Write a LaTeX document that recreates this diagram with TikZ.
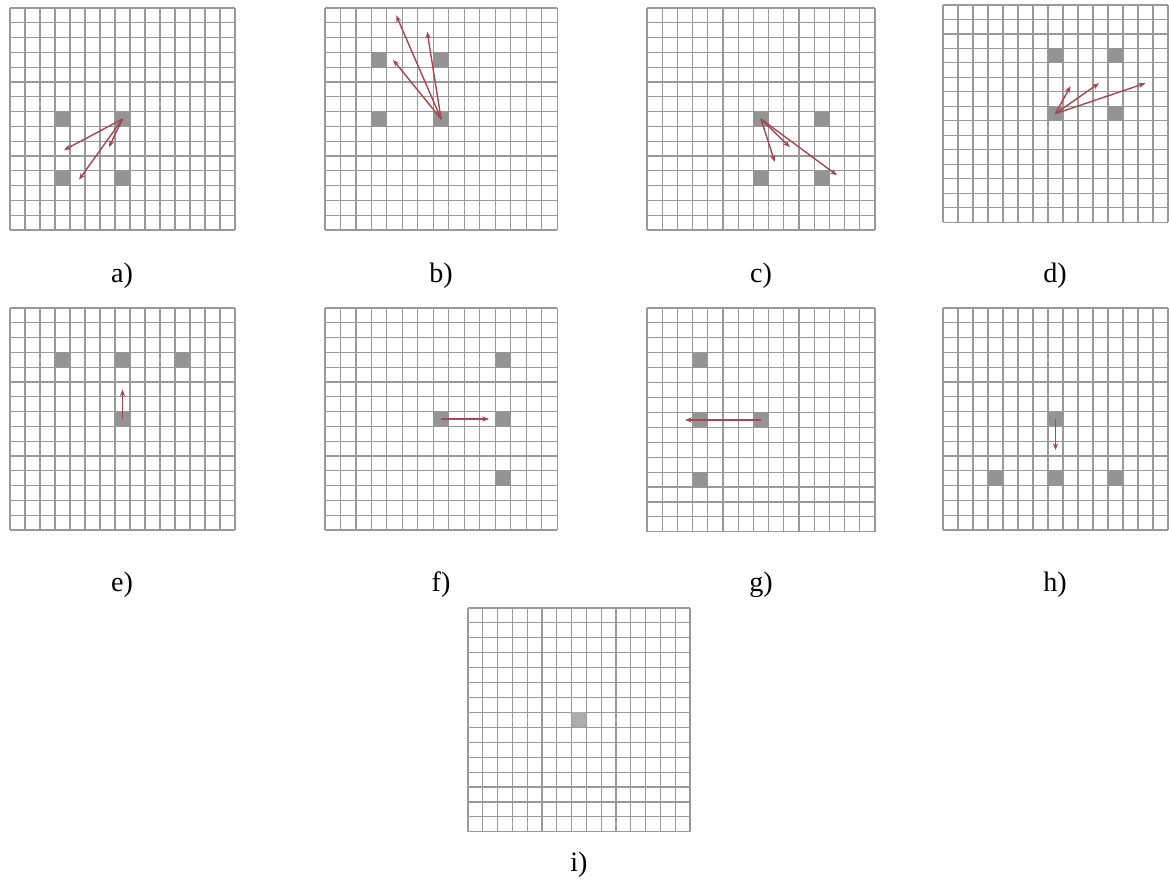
\documentclass[tikz,border=0pt]{standalone}
\usepackage{fontspec}
\setmainfont{Liberation Serif}
\usetikzlibrary{arrows.meta}

\definecolor{vecred}{RGB}{165,70,80}

\tikzset{
    grid line/.style={
      draw=black!40,
      line width=0.28mm
    },
    block/.style={
      fill=black!42
    },
    vec/.style={
      draw=vecred,
      line width=0.35mm,
      -{Stealth[length=1.7mm,width=1.3mm]}
    },
    panel label/.style={
      font=\fontsize{20}{24}\selectfont,
      anchor=base,
      inner sep=0pt
    }
  }

% 15 x 15 grid of one panel
\newcommand{\pixgrid}{%
  \foreach \k in {0,...,15} {
    \draw[grid line] (\k,0) -- (\k,15);
    \draw[grid line] (0,\k) -- (15,\k);
  }}

\begin{document}
\begin{tikzpicture}[x=0.25mm, y=-0.25mm]
      \useasboundingbox (0,0) rectangle (1169,885);

      % a)
      \begin{scope}[shift={(10,8)}, x=3.75mm, y=-3.7mm]
        \pixgrid
        \fill[block] (3,7) rectangle ++(1,1);
        \fill[block] (7,7) rectangle ++(1,1);
        \fill[block] (3,11) rectangle ++(1,1);
        \fill[block] (7,11) rectangle ++(1,1);
        \coordinate (a-src) at (7.5,7.5);
        \coordinate (a-t1) at (3.6,9.6);
        \coordinate (a-t2) at (4.6,11.6);
        \coordinate (a-t3) at (6.6,9.4);
        \draw[vec] (a-src) -- (a-t1);
        \draw[vec] (a-src) -- (a-t2);
        \draw[vec] (a-src) -- (a-t3);
      \end{scope}

      % b)
      \begin{scope}[shift={(325,8)}, x=3.87mm, y=-3.7mm]
        \pixgrid
        \fill[block] (3,3) rectangle ++(1,1);
        \fill[block] (7,3) rectangle ++(1,1);
        \fill[block] (3,7) rectangle ++(1,1);
        \fill[block] (7,7) rectangle ++(1,1);
        \coordinate (b-src) at (7.5,7.5);
        \coordinate (b-t1) at (4.6,0.5);
        \coordinate (b-t2) at (6.6,1.6);
        \coordinate (b-t3) at (4.4,3.5);
        \draw[vec] (b-src) -- (b-t1);
        \draw[vec] (b-src) -- (b-t2);
        \draw[vec] (b-src) -- (b-t3);
      \end{scope}

      % c)
      \begin{scope}[shift={(647,8)}, x=3.8mm, y=-3.7mm]
        \pixgrid
        \fill[block] (7,7) rectangle ++(1,1);
        \fill[block] (11,7) rectangle ++(1,1);
        \fill[block] (7,11) rectangle ++(1,1);
        \fill[block] (11,11) rectangle ++(1,1);
        \coordinate (c-src) at (7.5,7.5);
        \coordinate (c-t1) at (8.4,10.4);
        \coordinate (c-t2) at (9.4,9.4);
        \coordinate (c-t3) at (12.5,11.3);
        \draw[vec] (c-src) -- (c-t1);
        \draw[vec] (c-src) -- (c-t2);
        \draw[vec] (c-src) -- (c-t3);
      \end{scope}

      % d)
      \begin{scope}[shift={(943,5)}, x=3.75mm, y=-3.62mm]
        \pixgrid
        \fill[block] (7,3) rectangle ++(1,1);
        \fill[block] (11,3) rectangle ++(1,1);
        \fill[block] (7,7) rectangle ++(1,1);
        \fill[block] (11,7) rectangle ++(1,1);
        \coordinate (d-src) at (7.5,7.5);
        \coordinate (d-t1) at (8.5,5.6);
        \coordinate (d-t2) at (10.4,5.4);
        \coordinate (d-t3) at (13.5,5.4);
        \draw[vec] (d-src) -- (d-t1);
        \draw[vec] (d-src) -- (d-t2);
        \draw[vec] (d-src) -- (d-t3);
      \end{scope}

      % e)
      \begin{scope}[shift={(10,308)}, x=3.75mm, y=-3.7mm]
        \pixgrid
        \fill[block] (3,3) rectangle ++(1,1);
        \fill[block] (7,3) rectangle ++(1,1);
        \fill[block] (11,3) rectangle ++(1,1);
        \fill[block] (7,7) rectangle ++(1,1);
        \coordinate (e-src) at (7.5,7.5);
        \coordinate (e-t1) at (7.5,5.5);
        \draw[vec] (e-src) -- (e-t1);
      \end{scope}

      % f)
      \begin{scope}[shift={(325,308)}, x=3.87mm, y=-3.7mm]
        \pixgrid
        \fill[block] (11,3) rectangle ++(1,1);
        \fill[block] (7,7) rectangle ++(1,1);
        \fill[block] (11,7) rectangle ++(1,1);
        \fill[block] (11,11) rectangle ++(1,1);
        \coordinate (f-src) at (7.5,7.5);
        \coordinate (f-t1) at (10.6,7.5);
        \draw[vec] (f-src) -- (f-t1);
      \end{scope}

      % g)
      \begin{scope}[shift={(647,308)}, x=3.8mm, y=-3.73mm]
        \pixgrid
        \fill[block] (3,3) rectangle ++(1,1);
        \fill[block] (3,7) rectangle ++(1,1);
        \fill[block] (7,7) rectangle ++(1,1);
        \fill[block] (3,11) rectangle ++(1,1);
        \coordinate (g-src) at (7.5,7.5);
        \coordinate (g-t1) at (2.5,7.5);
        \draw[vec] (g-src) -- (g-t1);
      \end{scope}

      % h)
      \begin{scope}[shift={(943,308)}, x=3.75mm, y=-3.7mm]
        \pixgrid
        \fill[block] (7,7) rectangle ++(1,1);
        \fill[block] (3,11) rectangle ++(1,1);
        \fill[block] (7,11) rectangle ++(1,1);
        \fill[block] (11,11) rectangle ++(1,1);
        \coordinate (h-src) at (7.5,7.5);
        \coordinate (h-t1) at (7.5,9.6);
        \draw[vec] (h-src) -- (h-t1);
      \end{scope}

      % i)
      \begin{scope}[shift={(468,608)}, x=3.7mm, y=-3.73mm]
        \pixgrid
        \fill[block, fill=black!32] (7,7) rectangle ++(1,1);
      \end{scope}

      % labels
      \node[panel label] (a-lbl) at (122,283) {a)};
      \node[panel label] (b-lbl) at (441,283) {b)};
      \node[panel label] (c-lbl) at (761,283) {c)};
      \node[panel label] (d-lbl) at (1055,283) {d)};
      \node[panel label] (e-lbl) at (122,591) {e)};
      \node[panel label] (f-lbl) at (441,591) {f)};
      \node[panel label] (g-lbl) at (761,591) {g)};
      \node[panel label] (h-lbl) at (1055,591) {h)};
      \node[panel label] (i-lbl) at (579,871) {i)};
    \end{tikzpicture}
\end{document}
